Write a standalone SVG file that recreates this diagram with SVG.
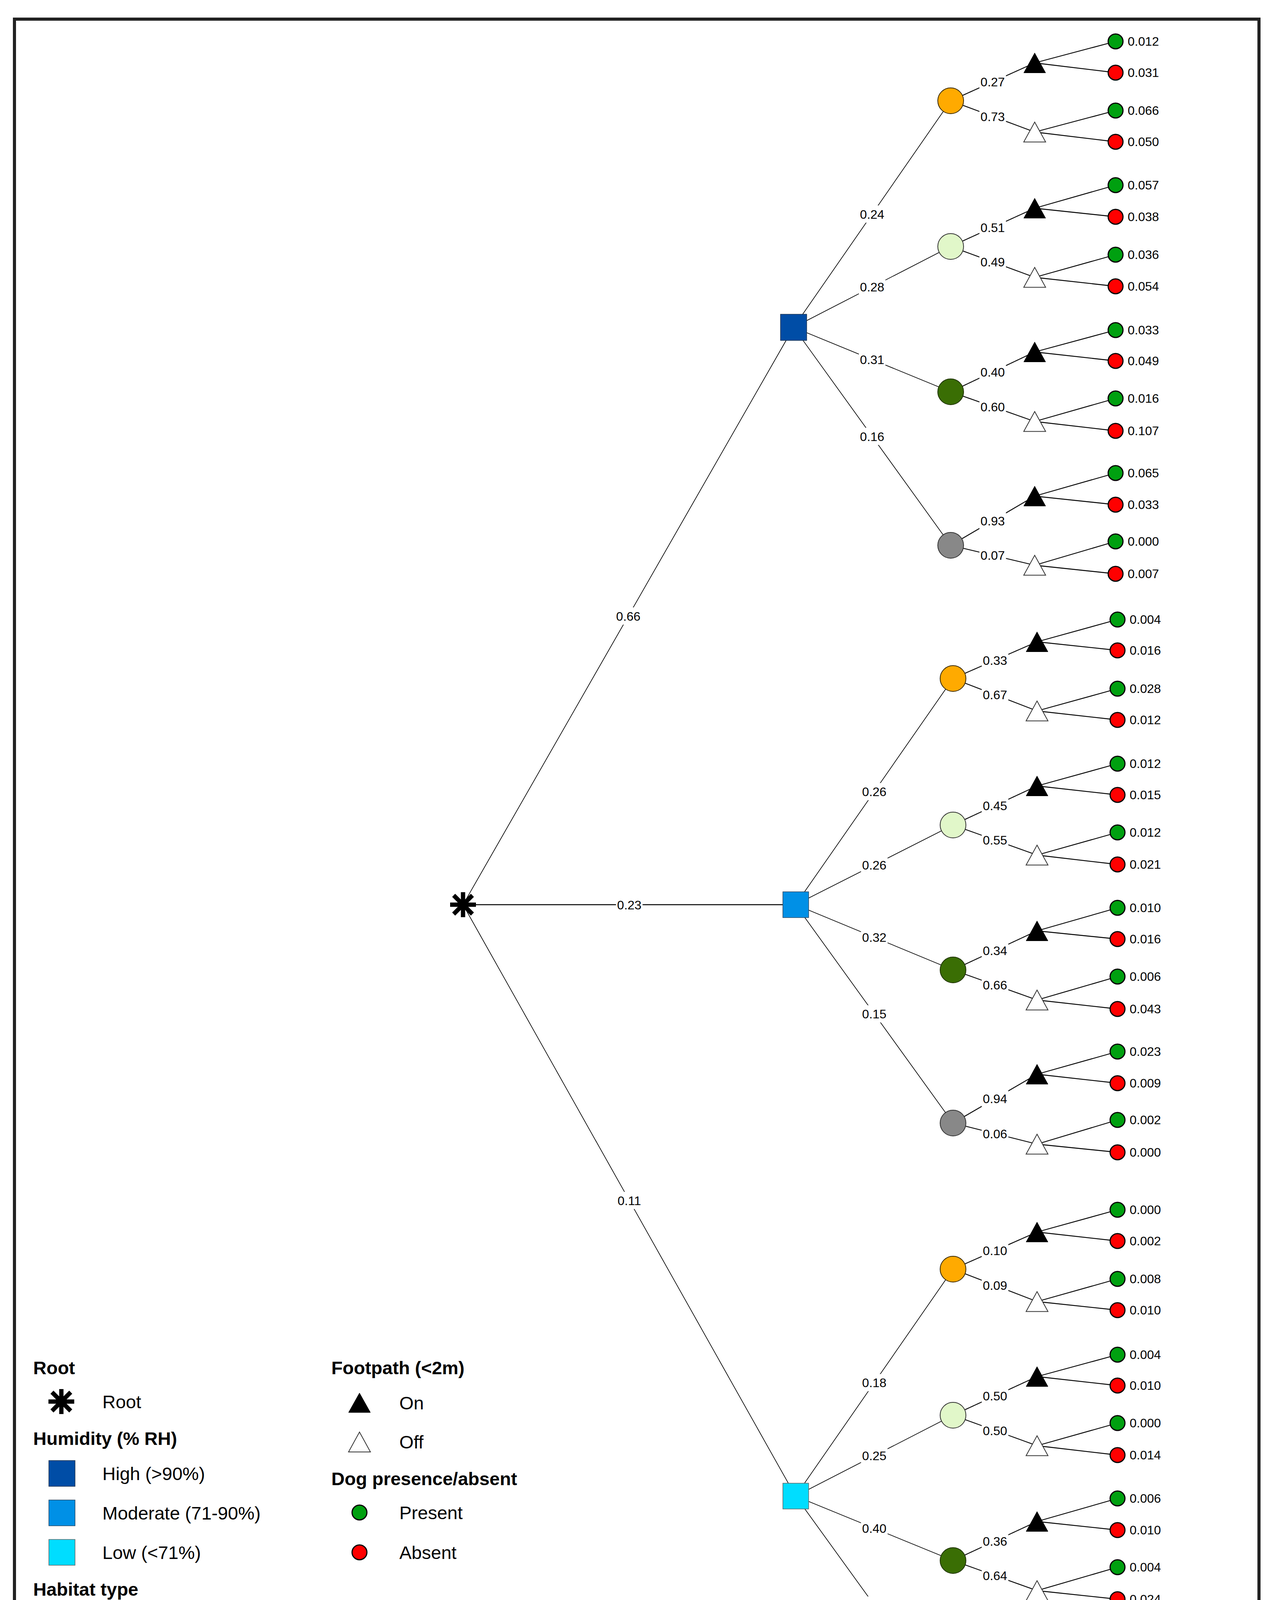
<svg xmlns="http://www.w3.org/2000/svg" xmlns:xlink="http://www.w3.org/1999/xlink" width="3263" height="4593" viewBox="0 0 3263 4593">
<style>
text{font-family:"Liberation Sans",Arial,Helvetica,sans-serif;fill:#000}
.lbl{font-size:32px;text-anchor:middle}
.val{font-size:32px}
.lg{font-size:47px}
.lgh{font-size:47px;font-weight:bold}
.e1{stroke:#000;stroke-width:1.7;fill:none}
.e2{stroke:#000;stroke-width:2.3;fill:none}
.bg{fill:#fff}
.sq-high{fill:#004DA6;stroke:#1d3550;stroke-width:1.5}
.sq-mod{fill:#0090E6;stroke:#2a4a66;stroke-width:1.5}
.sq-low{fill:#00DDFF;stroke:#666;stroke-width:1.5}
.hab-am{fill:#FFAA00;stroke:#3a2a00;stroke-width:2}
.hab-nat{fill:#E1F7C9;stroke:#333;stroke-width:2}
.hab-wood{fill:#3A6E04;stroke:#1f3300;stroke-width:2}
.hab-hard{fill:#888888;stroke:#333;stroke-width:2}
.tri-on{fill:#000;stroke:#000;stroke-width:1}
.tri-off{fill:#fff;stroke:#333;stroke-width:2}
.lp{fill:#00A010;stroke:#000;stroke-width:3}
.la{fill:#FF0000;stroke:#000;stroke-width:3}
.star{stroke:#000;stroke-width:11;fill:none}
</style>
<defs>
<path id="tri" d="M0,-25.5 L28,25.5 L-28,25.5 Z"/>
<path id="ast" d="M0,-32V32M-33,0H33M-24,-24L24,24M24,-24L-24,24"/>
</defs>
<rect x="0" y="0" width="3263" height="4593" fill="#fff"/>
<rect x="37" y="49" width="3185" height="4502" fill="none" stroke="#222" stroke-width="8"/>

<g id="connectors">
<line class="e1" x1="1185" y1="2316" x2="2031" y2="838"/>
<line class="e2" x1="1185" y1="2316" x2="2036" y2="2316"/>
<line class="e1" x1="1185" y1="2316" x2="2036" y2="3830"/>
<line class="e1" x1="2031" y1="838" x2="2433" y2="258"/>
<line class="e1" x1="2031" y1="838" x2="2433" y2="631"/>
<line class="e1" x1="2031" y1="838" x2="2433" y2="1003"/>
<line class="e1" x1="2031" y1="838" x2="2433" y2="1396"/>
<line class="e2" x1="2433" y1="258" x2="2648" y2="161"/>
<line class="e2" x1="2433" y1="258" x2="2648" y2="338"/>
<line class="e2" x1="2433" y1="631" x2="2648" y2="533"/>
<line class="e2" x1="2433" y1="631" x2="2648" y2="710"/>
<line class="e2" x1="2433" y1="1003" x2="2648" y2="901"/>
<line class="e2" x1="2433" y1="1003" x2="2648" y2="1079"/>
<line class="e2" x1="2433" y1="1396" x2="2648" y2="1270"/>
<line class="e2" x1="2433" y1="1396" x2="2648" y2="1447"/>
<line class="e2" x1="2648" y1="161" x2="2855" y2="106"/>
<line class="e2" x1="2648" y1="161" x2="2855" y2="186"/>
<line class="e2" x1="2648" y1="338" x2="2855" y2="283"/>
<line class="e2" x1="2648" y1="338" x2="2855" y2="363"/>
<line class="e2" x1="2648" y1="533" x2="2855" y2="474"/>
<line class="e2" x1="2648" y1="533" x2="2855" y2="555"/>
<line class="e2" x1="2648" y1="710" x2="2855" y2="652"/>
<line class="e2" x1="2648" y1="710" x2="2855" y2="733"/>
<line class="e2" x1="2648" y1="901" x2="2855" y2="845"/>
<line class="e2" x1="2648" y1="901" x2="2855" y2="924"/>
<line class="e2" x1="2648" y1="1079" x2="2855" y2="1020"/>
<line class="e2" x1="2648" y1="1079" x2="2855" y2="1103"/>
<line class="e2" x1="2648" y1="1270" x2="2855" y2="1211"/>
<line class="e2" x1="2648" y1="1270" x2="2855" y2="1292"/>
<line class="e2" x1="2648" y1="1447" x2="2855" y2="1386"/>
<line class="e2" x1="2648" y1="1447" x2="2855" y2="1469"/>
<line class="e1" x1="2036" y1="2316" x2="2439" y2="1737"/>
<line class="e1" x1="2036" y1="2316" x2="2439" y2="2112"/>
<line class="e1" x1="2036" y1="2316" x2="2439" y2="2483"/>
<line class="e1" x1="2036" y1="2316" x2="2439" y2="2875"/>
<line class="e2" x1="2439" y1="1737" x2="2654" y2="1643"/>
<line class="e2" x1="2439" y1="1737" x2="2654" y2="1820"/>
<line class="e2" x1="2439" y1="2112" x2="2654" y2="2012"/>
<line class="e2" x1="2439" y1="2112" x2="2654" y2="2189"/>
<line class="e2" x1="2439" y1="2483" x2="2654" y2="2383"/>
<line class="e2" x1="2439" y1="2483" x2="2654" y2="2560"/>
<line class="e2" x1="2439" y1="2875" x2="2654" y2="2750"/>
<line class="e2" x1="2439" y1="2875" x2="2654" y2="2929"/>
<line class="e2" x1="2654" y1="1643" x2="2860" y2="1586"/>
<line class="e2" x1="2654" y1="1643" x2="2860" y2="1665"/>
<line class="e2" x1="2654" y1="1820" x2="2860" y2="1763"/>
<line class="e2" x1="2654" y1="1820" x2="2860" y2="1843"/>
<line class="e2" x1="2654" y1="2012" x2="2860" y2="1955"/>
<line class="e2" x1="2654" y1="2012" x2="2860" y2="2035"/>
<line class="e2" x1="2654" y1="2189" x2="2860" y2="2131"/>
<line class="e2" x1="2654" y1="2189" x2="2860" y2="2213"/>
<line class="e2" x1="2654" y1="2383" x2="2860" y2="2324"/>
<line class="e2" x1="2654" y1="2383" x2="2860" y2="2404"/>
<line class="e2" x1="2654" y1="2560" x2="2860" y2="2500"/>
<line class="e2" x1="2654" y1="2560" x2="2860" y2="2583"/>
<line class="e2" x1="2654" y1="2750" x2="2860" y2="2692"/>
<line class="e2" x1="2654" y1="2750" x2="2860" y2="2773"/>
<line class="e2" x1="2654" y1="2929" x2="2860" y2="2867"/>
<line class="e2" x1="2654" y1="2929" x2="2860" y2="2950"/>
<line class="e1" x1="2036" y1="3830" x2="2439" y2="3249"/>
<line class="e1" x1="2036" y1="3830" x2="2439" y2="3623"/>
<line class="e1" x1="2036" y1="3830" x2="2439" y2="3995"/>
<line class="e1" x1="2036" y1="3830" x2="2439" y2="4388"/>
<line class="e2" x1="2439" y1="3249" x2="2654" y2="3154"/>
<line class="e2" x1="2439" y1="3249" x2="2654" y2="3332"/>
<line class="e2" x1="2439" y1="3623" x2="2654" y2="3524"/>
<line class="e2" x1="2439" y1="3623" x2="2654" y2="3701"/>
<line class="e2" x1="2439" y1="3995" x2="2654" y2="3895"/>
<line class="e2" x1="2439" y1="3995" x2="2654" y2="4072"/>
<line class="e2" x1="2439" y1="4388" x2="2654" y2="4261"/>
<line class="e2" x1="2439" y1="4388" x2="2654" y2="4438"/>
<line class="e2" x1="2654" y1="3154" x2="2860" y2="3097"/>
<line class="e2" x1="2654" y1="3154" x2="2860" y2="3177"/>
<line class="e2" x1="2654" y1="3332" x2="2860" y2="3274"/>
<line class="e2" x1="2654" y1="3332" x2="2860" y2="3354"/>
<line class="e2" x1="2654" y1="3524" x2="2860" y2="3468"/>
<line class="e2" x1="2654" y1="3524" x2="2860" y2="3547"/>
<line class="e2" x1="2654" y1="3701" x2="2860" y2="3643"/>
<line class="e2" x1="2654" y1="3701" x2="2860" y2="3725"/>
<line class="e2" x1="2654" y1="3895" x2="2860" y2="3836"/>
<line class="e2" x1="2654" y1="3895" x2="2860" y2="3917"/>
<line class="e2" x1="2654" y1="4072" x2="2860" y2="4012"/>
<line class="e2" x1="2654" y1="4072" x2="2860" y2="4094"/>
<line class="e2" x1="2654" y1="4261" x2="2860" y2="4202"/>
<line class="e2" x1="2654" y1="4261" x2="2860" y2="4282"/>
<line class="e2" x1="2654" y1="4438" x2="2860" y2="4378"/>
<line class="e2" x1="2654" y1="4438" x2="2860" y2="4461"/>
</g>

<g id="edge-labels">
<rect class="bg" x="1574" y="1555" width="68" height="44"/><text class="lbl" x="1608" y="1588.5">0.66</text>
<rect class="bg" x="1576.5" y="2294" width="68" height="44"/><text class="lbl" x="1610.5" y="2327.5">0.23</text>
<rect class="bg" x="1576.5" y="3051" width="68" height="44"/><text class="lbl" x="1610.5" y="3084.5">0.11</text>

<rect class="bg" x="2198" y="526" width="68" height="44"/><text class="lbl" x="2232" y="559.5">0.24</text>
<rect class="bg" x="2198" y="712.5" width="68" height="44"/><text class="lbl" x="2232" y="746">0.28</text>
<rect class="bg" x="2198" y="898.5" width="68" height="44"/><text class="lbl" x="2232" y="932">0.31</text>
<rect class="bg" x="2198" y="1095" width="68" height="44"/><text class="lbl" x="2232" y="1128.5">0.16</text>
<rect class="bg" x="2506.5" y="187.5" width="68" height="44"/><text class="lbl" x="2540.5" y="221">0.27</text>
<rect class="bg" x="2506.5" y="276" width="68" height="44"/><text class="lbl" x="2540.5" y="309.5">0.73</text>
<rect class="bg" x="2506.5" y="560" width="68" height="44"/><text class="lbl" x="2540.5" y="593.5">0.51</text>
<rect class="bg" x="2506.5" y="648.5" width="68" height="44"/><text class="lbl" x="2540.5" y="682">0.49</text>
<rect class="bg" x="2506.5" y="930" width="68" height="44"/><text class="lbl" x="2540.5" y="963.5">0.40</text>
<rect class="bg" x="2506.5" y="1019" width="68" height="44"/><text class="lbl" x="2540.5" y="1052.5">0.60</text>
<rect class="bg" x="2506.5" y="1311" width="68" height="44"/><text class="lbl" x="2540.5" y="1344.5">0.93</text>
<rect class="bg" x="2506.5" y="1399.5" width="68" height="44"/><text class="lbl" x="2540.5" y="1433">0.07</text>

<rect class="bg" x="2203.5" y="2004.5" width="68" height="44"/><text class="lbl" x="2237.5" y="2038">0.26</text>
<rect class="bg" x="2203.5" y="2192" width="68" height="44"/><text class="lbl" x="2237.5" y="2225.5">0.26</text>
<rect class="bg" x="2203.5" y="2377.5" width="68" height="44"/><text class="lbl" x="2237.5" y="2411">0.32</text>
<rect class="bg" x="2203.5" y="2573.5" width="68" height="44"/><text class="lbl" x="2237.5" y="2607">0.15</text>
<rect class="bg" x="2512.5" y="1668" width="68" height="44"/><text class="lbl" x="2546.5" y="1701.5">0.33</text>
<rect class="bg" x="2512.5" y="1756.5" width="68" height="44"/><text class="lbl" x="2546.5" y="1790">0.67</text>
<rect class="bg" x="2512.5" y="2040" width="68" height="44"/><text class="lbl" x="2546.5" y="2073.5">0.45</text>
<rect class="bg" x="2512.5" y="2128.5" width="68" height="44"/><text class="lbl" x="2546.5" y="2162">0.55</text>
<rect class="bg" x="2512.5" y="2411" width="68" height="44"/><text class="lbl" x="2546.5" y="2444.5">0.34</text>
<rect class="bg" x="2512.5" y="2499.5" width="68" height="44"/><text class="lbl" x="2546.5" y="2533">0.66</text>
<rect class="bg" x="2512.5" y="2790.5" width="68" height="44"/><text class="lbl" x="2546.5" y="2824">0.94</text>
<rect class="bg" x="2512.5" y="2880" width="68" height="44"/><text class="lbl" x="2546.5" y="2913.5">0.06</text>

<rect class="bg" x="2203.5" y="3517.5" width="68" height="44"/><text class="lbl" x="2237.5" y="3551">0.18</text>
<rect class="bg" x="2203.5" y="3704.5" width="68" height="44"/><text class="lbl" x="2237.5" y="3738">0.25</text>
<rect class="bg" x="2203.5" y="3890.5" width="68" height="44"/><text class="lbl" x="2237.5" y="3924">0.40</text>
<rect class="bg" x="2203.5" y="4087" width="68" height="44"/><text class="lbl" x="2237.5" y="4120.5">0.16</text>
<rect class="bg" x="2512.5" y="3179.5" width="68" height="44"/><text class="lbl" x="2546.5" y="3213">0.10</text>
<rect class="bg" x="2512.5" y="3268.5" width="68" height="44"/><text class="lbl" x="2546.5" y="3302">0.09</text>
<rect class="bg" x="2512.5" y="3551.5" width="68" height="44"/><text class="lbl" x="2546.5" y="3585">0.50</text>
<rect class="bg" x="2512.5" y="3640" width="68" height="44"/><text class="lbl" x="2546.5" y="3673.5">0.50</text>
<rect class="bg" x="2512.5" y="3923" width="68" height="44"/><text class="lbl" x="2546.5" y="3956.5">0.36</text>
<rect class="bg" x="2512.5" y="4011.5" width="68" height="44"/><text class="lbl" x="2546.5" y="4045">0.64</text>
<rect class="bg" x="2512.5" y="4302.5" width="68" height="44"/><text class="lbl" x="2546.5" y="4336">1.00</text>
<rect class="bg" x="2512.5" y="4391" width="68" height="44"/><text class="lbl" x="2546.5" y="4424.5">0.00</text>
</g>

<g id="n-root"><use xlink:href="#ast" href="#ast" class="star" transform="translate(1185,2316)"/></g>
<g id="n-high"><rect class="sq-high" x="1997.5" y="804.5" width="67" height="67"/></g>
<g id="n-moderate"><rect class="sq-mod" x="2003.5" y="2283" width="66" height="66"/></g>
<g id="n-low"><rect class="sq-low" x="2003.5" y="3797" width="66" height="66"/></g>

<g id="n-high-amenity"><circle class="hab-am" cx="2433" cy="258" r="33"/></g>
<g id="n-high-natural"><circle class="hab-nat" cx="2433" cy="631" r="33"/></g>
<g id="n-high-woodland"><circle class="hab-wood" cx="2433" cy="1003" r="33"/></g>
<g id="n-high-hard"><circle class="hab-hard" cx="2433" cy="1396" r="33"/></g>
<g id="n-mod-amenity"><circle class="hab-am" cx="2439" cy="1737" r="33"/></g>
<g id="n-mod-natural"><circle class="hab-nat" cx="2439" cy="2112" r="33"/></g>
<g id="n-mod-woodland"><circle class="hab-wood" cx="2439" cy="2483" r="33"/></g>
<g id="n-mod-hard"><circle class="hab-hard" cx="2439" cy="2875" r="33"/></g>
<g id="n-low-amenity"><circle class="hab-am" cx="2439" cy="3249" r="33"/></g>
<g id="n-low-natural"><circle class="hab-nat" cx="2439" cy="3623" r="33"/></g>
<g id="n-low-woodland"><circle class="hab-wood" cx="2439" cy="3995" r="33"/></g>
<g id="n-low-hard"><circle class="hab-hard" cx="2439" cy="4388" r="33"/></g>

<g id="n-footpath">
<g id="t-h1-on"><use href="#tri" xlink:href="#tri" class="tri-on" transform="translate(2648,161)"/></g>
<g id="t-h1-off"><use href="#tri" xlink:href="#tri" class="tri-off" transform="translate(2648,338)"/></g>
<g id="t-h2-on"><use href="#tri" xlink:href="#tri" class="tri-on" transform="translate(2648,533)"/></g>
<g id="t-h2-off"><use href="#tri" xlink:href="#tri" class="tri-off" transform="translate(2648,710)"/></g>
<g id="t-h3-on"><use href="#tri" xlink:href="#tri" class="tri-on" transform="translate(2648,901)"/></g>
<g id="t-h3-off"><use href="#tri" xlink:href="#tri" class="tri-off" transform="translate(2648,1079)"/></g>
<g id="t-h4-on"><use href="#tri" xlink:href="#tri" class="tri-on" transform="translate(2648,1270)"/></g>
<g id="t-h4-off"><use href="#tri" xlink:href="#tri" class="tri-off" transform="translate(2648,1447)"/></g>
<g id="t-m1-on"><use href="#tri" xlink:href="#tri" class="tri-on" transform="translate(2654,1643)"/></g>
<g id="t-m1-off"><use href="#tri" xlink:href="#tri" class="tri-off" transform="translate(2654,1820)"/></g>
<g id="t-m2-on"><use href="#tri" xlink:href="#tri" class="tri-on" transform="translate(2654,2012)"/></g>
<g id="t-m2-off"><use href="#tri" xlink:href="#tri" class="tri-off" transform="translate(2654,2189)"/></g>
<g id="t-m3-on"><use href="#tri" xlink:href="#tri" class="tri-on" transform="translate(2654,2383)"/></g>
<g id="t-m3-off"><use href="#tri" xlink:href="#tri" class="tri-off" transform="translate(2654,2560)"/></g>
<g id="t-m4-on"><use href="#tri" xlink:href="#tri" class="tri-on" transform="translate(2654,2750)"/></g>
<g id="t-m4-off"><use href="#tri" xlink:href="#tri" class="tri-off" transform="translate(2654,2929)"/></g>
<g id="t-l1-on"><use href="#tri" xlink:href="#tri" class="tri-on" transform="translate(2654,3154)"/></g>
<g id="t-l1-off"><use href="#tri" xlink:href="#tri" class="tri-off" transform="translate(2654,3332)"/></g>
<g id="t-l2-on"><use href="#tri" xlink:href="#tri" class="tri-on" transform="translate(2654,3524)"/></g>
<g id="t-l2-off"><use href="#tri" xlink:href="#tri" class="tri-off" transform="translate(2654,3701)"/></g>
<g id="t-l3-on"><use href="#tri" xlink:href="#tri" class="tri-on" transform="translate(2654,3895)"/></g>
<g id="t-l3-off"><use href="#tri" xlink:href="#tri" class="tri-off" transform="translate(2654,4072)"/></g>
<g id="t-l4-on"><use href="#tri" xlink:href="#tri" class="tri-on" transform="translate(2654,4261)"/></g>
<g id="t-l4-off"><use href="#tri" xlink:href="#tri" class="tri-off" transform="translate(2654,4438)"/></g>
</g>

<g id="n-leaves">
<g id="leaf-h-1"><circle class="lp" cx="2855" cy="106" r="19"/><text class="val" x="2886" y="117">0.012</text></g>
<g id="leaf-h-2"><circle class="la" cx="2855" cy="186" r="19"/><text class="val" x="2886" y="197">0.031</text></g>
<g id="leaf-h-3"><circle class="lp" cx="2855" cy="283" r="19"/><text class="val" x="2886" y="294">0.066</text></g>
<g id="leaf-h-4"><circle class="la" cx="2855" cy="363" r="19"/><text class="val" x="2886" y="374">0.050</text></g>
<g id="leaf-h-5"><circle class="lp" cx="2855" cy="474" r="19"/><text class="val" x="2886" y="485">0.057</text></g>
<g id="leaf-h-6"><circle class="la" cx="2855" cy="555" r="19"/><text class="val" x="2886" y="566">0.038</text></g>
<g id="leaf-h-7"><circle class="lp" cx="2855" cy="652" r="19"/><text class="val" x="2886" y="663">0.036</text></g>
<g id="leaf-h-8"><circle class="la" cx="2855" cy="733" r="19"/><text class="val" x="2886" y="744">0.054</text></g>
<g id="leaf-h-9"><circle class="lp" cx="2855" cy="845" r="19"/><text class="val" x="2886" y="856">0.033</text></g>
<g id="leaf-h-10"><circle class="la" cx="2855" cy="924" r="19"/><text class="val" x="2886" y="935">0.049</text></g>
<g id="leaf-h-11"><circle class="lp" cx="2855" cy="1020" r="19"/><text class="val" x="2886" y="1031">0.016</text></g>
<g id="leaf-h-12"><circle class="la" cx="2855" cy="1103" r="19"/><text class="val" x="2886" y="1114">0.107</text></g>
<g id="leaf-h-13"><circle class="lp" cx="2855" cy="1211" r="19"/><text class="val" x="2886" y="1222">0.065</text></g>
<g id="leaf-h-14"><circle class="la" cx="2855" cy="1292" r="19"/><text class="val" x="2886" y="1303">0.033</text></g>
<g id="leaf-h-15"><circle class="lp" cx="2855" cy="1386" r="19"/><text class="val" x="2886" y="1397">0.000</text></g>
<g id="leaf-h-16"><circle class="la" cx="2855" cy="1469" r="19"/><text class="val" x="2886" y="1480">0.007</text></g>

<g id="leaf-m-1"><circle class="lp" cx="2860" cy="1586" r="19"/><text class="val" x="2891" y="1597">0.004</text></g>
<g id="leaf-m-2"><circle class="la" cx="2860" cy="1665" r="19"/><text class="val" x="2891" y="1676">0.016</text></g>
<g id="leaf-m-3"><circle class="lp" cx="2860" cy="1763" r="19"/><text class="val" x="2891" y="1774">0.028</text></g>
<g id="leaf-m-4"><circle class="la" cx="2860" cy="1843" r="19"/><text class="val" x="2891" y="1854">0.012</text></g>
<g id="leaf-m-5"><circle class="lp" cx="2860" cy="1955" r="19"/><text class="val" x="2891" y="1966">0.012</text></g>
<g id="leaf-m-6"><circle class="la" cx="2860" cy="2035" r="19"/><text class="val" x="2891" y="2046">0.015</text></g>
<g id="leaf-m-7"><circle class="lp" cx="2860" cy="2131" r="19"/><text class="val" x="2891" y="2142">0.012</text></g>
<g id="leaf-m-8"><circle class="la" cx="2860" cy="2213" r="19"/><text class="val" x="2891" y="2224">0.021</text></g>
<g id="leaf-m-9"><circle class="lp" cx="2860" cy="2324" r="19"/><text class="val" x="2891" y="2335">0.010</text></g>
<g id="leaf-m-10"><circle class="la" cx="2860" cy="2404" r="19"/><text class="val" x="2891" y="2415">0.016</text></g>
<g id="leaf-m-11"><circle class="lp" cx="2860" cy="2500" r="19"/><text class="val" x="2891" y="2511">0.006</text></g>
<g id="leaf-m-12"><circle class="la" cx="2860" cy="2583" r="19"/><text class="val" x="2891" y="2594">0.043</text></g>
<g id="leaf-m-13"><circle class="lp" cx="2860" cy="2692" r="19"/><text class="val" x="2891" y="2703">0.023</text></g>
<g id="leaf-m-14"><circle class="la" cx="2860" cy="2773" r="19"/><text class="val" x="2891" y="2784">0.009</text></g>
<g id="leaf-m-15"><circle class="lp" cx="2860" cy="2867" r="19"/><text class="val" x="2891" y="2878">0.002</text></g>
<g id="leaf-m-16"><circle class="la" cx="2860" cy="2950" r="19"/><text class="val" x="2891" y="2961">0.000</text></g>

<g id="leaf-l-1"><circle class="lp" cx="2860" cy="3097" r="19"/><text class="val" x="2891" y="3108">0.000</text></g>
<g id="leaf-l-2"><circle class="la" cx="2860" cy="3177" r="19"/><text class="val" x="2891" y="3188">0.002</text></g>
<g id="leaf-l-3"><circle class="lp" cx="2860" cy="3274" r="19"/><text class="val" x="2891" y="3285">0.008</text></g>
<g id="leaf-l-4"><circle class="la" cx="2860" cy="3354" r="19"/><text class="val" x="2891" y="3365">0.010</text></g>
<g id="leaf-l-5"><circle class="lp" cx="2860" cy="3468" r="19"/><text class="val" x="2891" y="3479">0.004</text></g>
<g id="leaf-l-6"><circle class="la" cx="2860" cy="3547" r="19"/><text class="val" x="2891" y="3558">0.010</text></g>
<g id="leaf-l-7"><circle class="lp" cx="2860" cy="3643" r="19"/><text class="val" x="2891" y="3654">0.000</text></g>
<g id="leaf-l-8"><circle class="la" cx="2860" cy="3725" r="19"/><text class="val" x="2891" y="3736">0.014</text></g>
<g id="leaf-l-9"><circle class="lp" cx="2860" cy="3836" r="19"/><text class="val" x="2891" y="3847">0.006</text></g>
<g id="leaf-l-10"><circle class="la" cx="2860" cy="3917" r="19"/><text class="val" x="2891" y="3928">0.010</text></g>
<g id="leaf-l-11"><circle class="lp" cx="2860" cy="4012" r="19"/><text class="val" x="2891" y="4023">0.004</text></g>
<g id="leaf-l-12"><circle class="la" cx="2860" cy="4094" r="19"/><text class="val" x="2891" y="4105">0.024</text></g>
<g id="leaf-l-13"><circle class="lp" cx="2860" cy="4202" r="19"/><text class="val" x="2891" y="4213">0.016</text></g>
<g id="leaf-l-14"><circle class="la" cx="2860" cy="4282" r="19"/><text class="val" x="2891" y="4293">0.002</text></g>
<g id="leaf-l-15"><circle class="lp" cx="2860" cy="4378" r="19"/><text class="val" x="2891" y="4389">0.000</text></g>
<g id="leaf-l-16"><circle class="la" cx="2860" cy="4461" r="19"/><text class="val" x="2891" y="4472">0.000</text></g>
</g>

<g id="legend">
<text class="lgh" x="85" y="3518">Root</text>
<use href="#ast" xlink:href="#ast" class="star" transform="translate(157,3588)"/>
<text class="lg" x="262" y="3605">Root</text>
<text class="lgh" x="85" y="3699">Humidity (% RH)</text>
<rect class="sq-high" x="125" y="3739" width="67" height="66"/>
<text class="lg" x="262" y="3789">High (&gt;90%)</text>
<rect class="sq-mod" x="125" y="3840" width="67" height="66"/>
<text class="lg" x="262" y="3890">Moderate (71-90%)</text>
<rect class="sq-low" x="125" y="3941" width="67" height="66"/>
<text class="lg" x="262" y="3991">Low (&lt;71%)</text>
<text class="lgh" x="85" y="4085">Habitat type</text>
<circle class="hab-am" cx="158.5" cy="4156" r="33"/>
<text class="lg" x="262" y="4173">Amenity grassland</text>
<circle class="hab-nat" cx="158.5" cy="4257" r="33"/>
<text class="lg" x="262" y="4274">Natural grassland/herbs</text>
<circle class="hab-wood" cx="158.5" cy="4358" r="33"/>
<text class="lg" x="262" y="4375">Woodland/scrub</text>
<circle class="hab-hard" cx="158.5" cy="4460" r="33"/>
<text class="lg" x="262" y="4477">Hardstanding/bare ground</text>

<text class="lgh" x="848" y="3518">Footpath (&lt;2m)</text>
<path class="tri-on" d="M920,3566 L948,3616 L892,3616 Z"/>
<text class="lg" x="1022" y="3608">On</text>
<path class="tri-off" d="M920,3666 L948,3717 L892,3717 Z"/>
<text class="lg" x="1022" y="3708">Off</text>
<text class="lgh" x="848" y="3802">Dog presence/absent</text>
<circle class="lp" cx="920" cy="3872" r="19"/>
<text class="lg" x="1022" y="3889">Present</text>
<circle class="la" cx="920" cy="3974" r="19"/>
<text class="lg" x="1022" y="3991">Absent</text>
</g>
</svg>
